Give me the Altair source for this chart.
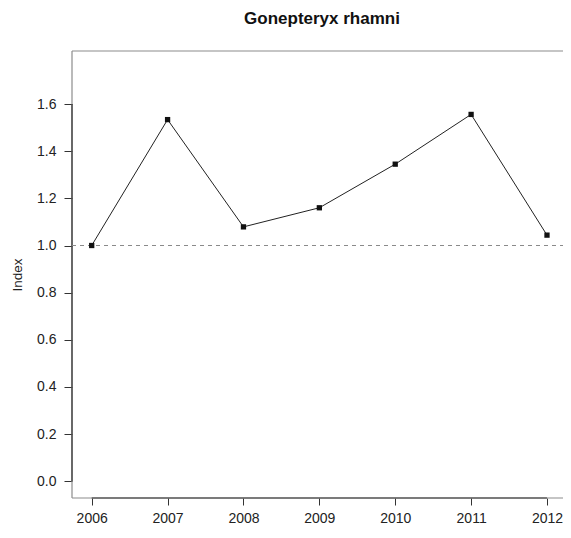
import altair as alt
import pandas as pd

# ---- data ----
years = [2006, 2007, 2008, 2009, 2010, 2011, 2012]
index_values = [1.0, 1.534, 1.079, 1.160, 1.345, 1.556, 1.044]
y_ticks = [0.0, 0.2, 0.4, 0.6, 0.8, 1.0, 1.2, 1.4, 1.6]
reference_level = [1.0]
title_text = "Gonepteryx rhamni"
y_title = "Index"

# ---- layout ----
W, H = 491, 447
FONT = "Liberation Sans"
BOX = "#8c8c8c"
AX = "#333333"

df = pd.DataFrame({"year": years, "index": index_values})
xscale = alt.Scale(domain=[2005.7404, 2012.211], nice=False, zero=False)
yscale = alt.Scale(domain=[-0.071, 1.825], nice=False, zero=False)

x_axis = alt.Axis(values=years, format="d", title=None, domain=False, grid=False,
                  tickColor=AX, tickSize=7, labelPadding=6, labelFont=FONT,
                  labelFontSize=14, labelColor="#222")
y_axis = alt.Axis(values=y_ticks, format=".1f", title=y_title, domain=False, grid=False,
                  tickColor=AX, tickSize=8, labelPadding=8, labelFont=FONT,
                  labelFontSize=14, labelColor="#222", titleFont=FONT,
                  titleFontSize=13.5, titleFontWeight="normal", titleColor="#222",
                  titleAngle=270, titleBaseline="alphabetic", titleX=-51, titleY=H / 2)

base = alt.Chart(df)

dummy = alt.Chart(pd.DataFrame({"a": [0]}))
frame_top = dummy.mark_rule(color=BOX, strokeWidth=1.2).encode(
    x=alt.value(0), x2=alt.value(W), y=alt.value(0))
frame_left = dummy.mark_rule(color=BOX, strokeWidth=1.2).encode(
    x=alt.value(0), y=alt.value(0), y2=alt.value(H))
frame_bottom = dummy.mark_rule(color=BOX, strokeWidth=1.2).encode(
    x=alt.value(0), x2=alt.value(W), y=alt.value(H))

xdom = alt.Chart(pd.DataFrame({"lo": [min(years)], "hi": [max(years)]})).mark_rule(
    color=AX, strokeWidth=1.2).encode(
    x=alt.X("lo:Q", scale=xscale, axis=x_axis), x2="hi:Q", y=alt.value(H))
ydom = alt.Chart(pd.DataFrame({"lo": [min(y_ticks)], "hi": [max(y_ticks)]})).mark_rule(
    color=AX, strokeWidth=1.2).encode(
    y=alt.Y("lo:Q", scale=yscale, axis=y_axis), y2="hi:Q", x=alt.value(0))

ref = alt.Chart(pd.DataFrame({"v": reference_level})).mark_rule(
    color="#8a8a8a", strokeDash=[4, 4], strokeWidth=1).encode(
    y=alt.Y("v:Q", scale=yscale), x=alt.value(0), x2=alt.value(W))

line = base.mark_line(color="#222", strokeWidth=1).encode(
    x=alt.X("year:Q", scale=xscale), y=alt.Y("index:Q", scale=yscale))
points = base.mark_square(size=28, color="#111", opacity=1).encode(
    x=alt.X("year:Q", scale=xscale), y=alt.Y("index:Q", scale=yscale))

chart = alt.layer(frame_top, frame_left, frame_bottom, xdom, ydom, ref, line, points).properties(
    width=W, height=H,
    title=alt.TitleParams(title_text, font=FONT, fontSize=17, fontWeight="bold",
                          anchor="middle", dx=4.5, offset=9.5, baseline="alphabetic",
                          color="#111"),
    autosize=alt.AutoSizeParams(type="none"),
    padding={"left": 64, "top": 43, "right": 0, "bottom": 28},
).configure_view(stroke=None)

chart.save("out.html", embed_options={"renderer": "svg", "actions": False})
